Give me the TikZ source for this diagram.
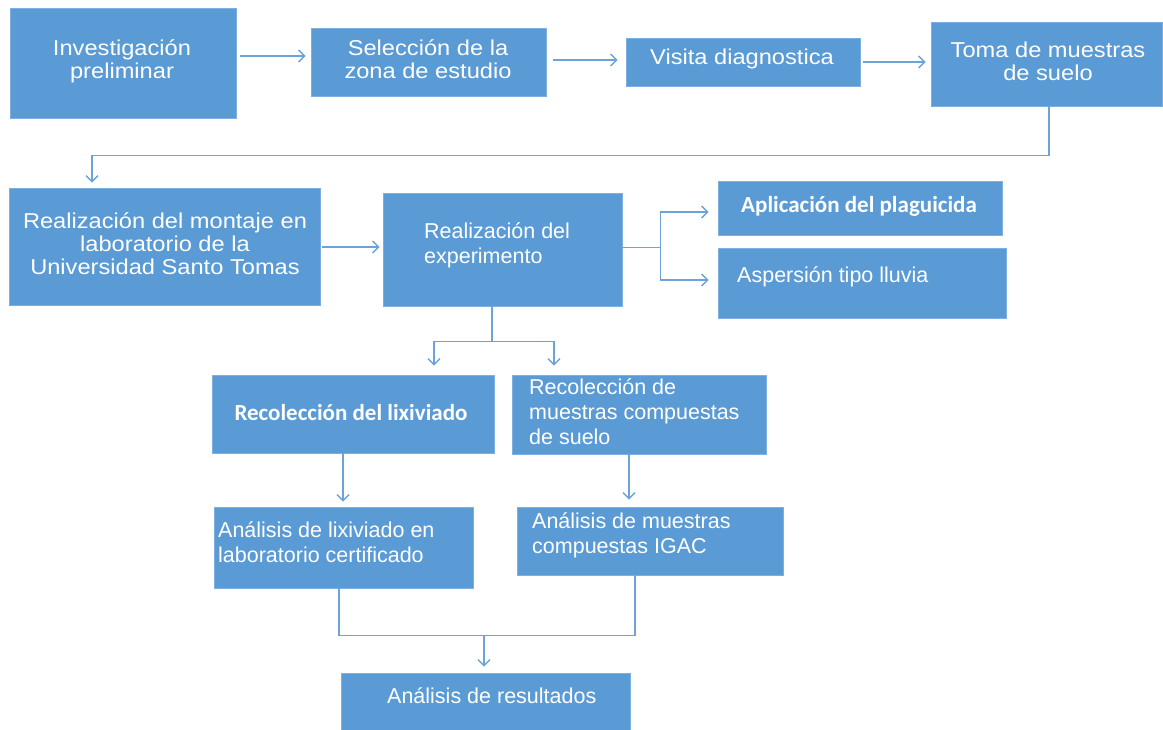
\documentclass[tikz,border=0pt]{standalone}
\usepackage{fontspec}
\setmainfont{Liberation Sans}
\newfontfamily\widefont[FakeStretch=1.1]{Liberation Sans}
\newfontfamily\calfont{Carlito}
\usetikzlibrary{arrows.meta,calc,fit}
\definecolor{boxblue}{HTML}{5B9BD5}
\definecolor{edgeblue}{HTML}{7DB0E0}
\definecolor{lineblue}{HTML}{6CA4DA}
\begin{document}
\begin{tikzpicture}[x=1pt,y=-1pt,
  box/.style={rectangle, fill=boxblue, draw=edgeblue, line width=0.8pt, inner sep=0pt},
  wtxt/.style={text=white, inner sep=0pt, align=center, font={\widefont\fontsize{21.5}{23}\selectfont}},
  ntxt/.style={text=white, inner sep=0pt, align=left, anchor=west, font={\fontsize{21.5}{25}\selectfont}},
  btxt/.style={text=white, inner sep=0pt, align=center, font={\calfont\bfseries\fontsize{23}{25}\selectfont}},
  conn/.style={draw=lineblue, line width=1.4pt},
  arr/.style={conn, -{Straight Barb[length=6pt,width=12pt]}}
]
\useasboundingbox[fill=white] (0,0) rectangle (1163,730);

% boxes
\node[box, fit={(10,8) (236,118)}] (b1) {};
\node[box, fit={(311,28) (546,96)}] (b2) {};
\node[box, fit={(626,38) (860,86)}] (b3) {};
\node[box, fit={(931,22) (1162,106)}] (b4) {};
\node[box, fit={(9,188) (320,305)}] (b5) {};
\node[box, fit={(383,193) (622,306)}] (b6) {};
\node[box, fit={(718,181) (1002,235)}] (b7) {};
\node[box, fit={(718,248) (1006,318)}] (b8) {};
\node[box, fit={(212,375) (494,453)}] (b9) {};
\node[box, fit={(512,375) (766,454)}] (b10) {};
\node[box, fit={(214,507) (473,588)}] (b11) {};
\node[box, fit={(517,507) (783,575)}] (b12) {};
\node[box, fit={(341,673) (630,732)}] (b13) {};

% texts
\node[wtxt] (t1) at (122,61.5) {Investigación\\preliminar};
\node[wtxt] (t2) at (428,59) {Selección de la\\zona de estudio};
\node[wtxt] (t3) at (742,59) {Visita diagnostica};
\node[wtxt] (t4) at (1048,61.5) {Toma de muestras\\de suelo};
\node[wtxt] (t5) at (165,244) {Realización del montaje en\\laboratorio de la\\Universidad Santo Tomas};
\node[ntxt] (t6) at (424,245.5) {Realización del\\experimento};
\node[btxt] (t7) at (859,206) {Aplicación del plaguicida};
\node[ntxt] (t8) at (737,277) {Aspersión tipo lluvia};
\node[btxt] (t9) at (351,413) {Recolección del lixiviado};
\node[ntxt] (t10) at (529,412) {Recolección de\\muestras compuestas\\de suelo};
\node[ntxt] (t11) at (218,542.5) {Análisis de lixiviado en\\laboratorio certificado};
\node[ntxt] (t12) at (532,535.5) {Análisis de muestras\\compuestas IGAC};
\node[ntxt] (t13) at (387,696) {Análisis de resultados};

% connectors
\draw[arr] ($(b1.east)+(4,-7)$) -- ($(b2.west)+(-5,-6)$);
\draw[arr] ($(b2.east)+(7,-2)$) -- ($(b3.west)+(-8,-2)$);
\draw[arr] ($(b3.east)+(3,0)$) -- ($(b4.west)+(-5,-2)$);
\draw[arr] ($(b4.south)+(2.5,0)$) -- ++(0,49) -| ($(b5.north)+(-72.5,-5)$);
\draw[arr] ($(b5.east)+(2,0.5)$) -- ($(b6.west)+(-3,-2.5)$);

\draw[conn] ($(b6.east)+(0,-2)$) -- ++(38,0) coordinate (j1);
\draw[arr] (j1) |- ($(b7.west)+(-9,4)$);
\draw[arr] (j1) |- ($(b8.west)+(-9,-3)$);

\draw[conn] ($(b6.south)+(-10.5,0)$) -- ++(0,35) coordinate (j2);
\draw[arr] (j2) -| ($(b9.north)+(81,-9)$);
\draw[arr] (j2) -| ($(b10.north)+(-85,-9)$);

\draw[arr] ($(b9.south)+(-10,0)$) -- ($(b11.north)+(-0.5,-5)$);
\draw[arr] ($(b10.south)+(-10,0)$) -- ($(b12.north)+(-21,-7)$);

\draw[conn] ($(b11.south)+(-4.5,0)$) |- ($(b12.south)+(-15,60)$) -- ($(b12.south)+(-15,0)$);
\coordinate (j3) at ($(b13.north)+(-1.5,-38)$);
\draw[arr] (j3) -- ($(b13.north)+(-1.5,-6)$);
\end{tikzpicture}
\end{document}
